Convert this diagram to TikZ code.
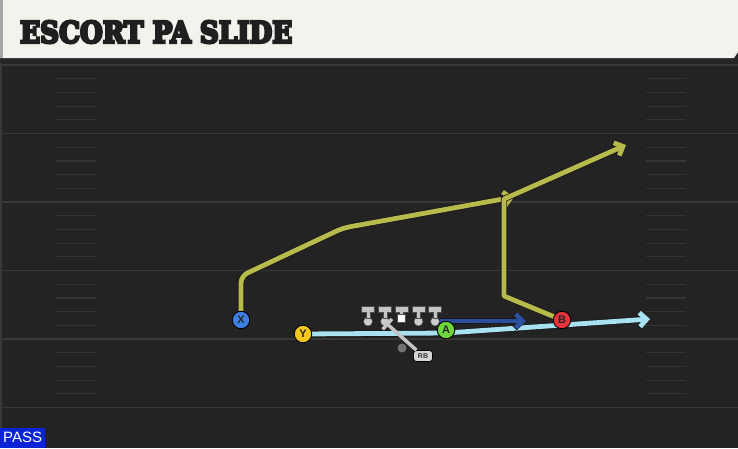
\documentclass[tikz,border=0pt]{standalone}
\usepackage{fontspec}
\usepackage{graphicx}
\setmainfont{Liberation Sans}
\newfontfamily\titlefont{DejaVu Serif}
\usetikzlibrary{arrows.meta}

\definecolor{fieldgray}{HTML}{232323}
\definecolor{yardline}{HTML}{383838}
\definecolor{hashline}{HTML}{343434}
\definecolor{headerbg}{HTML}{F4F2EC}
\definecolor{passblue}{HTML}{0B24D6}
\definecolor{routeolive}{HTML}{B8BA4C}
\definecolor{routecyan}{HTML}{A8E2F0}
\definecolor{routeblue}{HTML}{2C4E9E}
\definecolor{xblue}{HTML}{3D7FE0}
\definecolor{yyellow}{HTML}{F4C81C}
\definecolor{agreen}{HTML}{6ED63C}
\definecolor{bred}{HTML}{E8333F}
\definecolor{olgray}{HTML}{C4C4C4}

\newcommand{\heavytext}[1]{\special{pdf:literal direct 2 Tr 0.9 w}#1\special{pdf:literal direct 0 Tr}}

\tikzset{
  player/.style={circle, draw=black, line width=0.9pt, minimum size=17.5pt, inner sep=0pt,
    font=\bfseries\fontsize{11}{11}\selectfont, text=black!85},
  route/.style={line width=4.8pt, line join=round,
    -{Straight Barb[length=7pt, width=14pt]},
    preaction={draw=black!90, line width=6.4pt}},
  lineman/.style={circle, fill=olgray!85, draw=black!70, line width=0.5pt, minimum size=9pt, inner sep=0pt},
  rbtag/.style={rounded corners=3pt, fill=olgray!70, draw=black, line width=0.7pt,
    minimum width=19pt, minimum height=11pt, inner sep=0pt,
    font=\bfseries\fontsize{7}{7}\selectfont, text=black!80}
}

\begin{document}
\begin{tikzpicture}[x=1pt, y=-1pt]
    \useasboundingbox (0,0) rectangle (738,448);

    % Field and header
    \fill[fieldgray] (0,0) rectangle (738,448);
    \fill[black!85] (0,56) rectangle (738,63);
    \fill[yardline] (0,63) rectangle (2,448);
    \fill[headerbg] (0,0) -- (738,0) -- (738,52) -- (734,58) -- (0,58) -- cycle;
    \fill[black!35] (0,0) rectangle (3,58);
    \node[anchor=west, inner sep=0pt, text=black!88] (title) at (20,32)
        {\resizebox{272pt}{22pt}{\titlefont\bfseries\heavytext{ESCORT PA SLIDE}}};

    % Yard lines and hash marks
    \foreach \yl in {65,133.5,202,270.5,339,407.5} {
        \draw[yardline, line width=1.6pt] (0,\yl) -- (738,\yl);
    }
    \foreach \yl in {65,133.5,202,270.5,339} {
        \foreach \k in {1,2,3,4} {
            \draw[hashline, line width=1.2pt] (56,\yl+13.7*\k) -- (96,\yl+13.7*\k);
            \draw[hashline, line width=1.2pt] (646,\yl+13.7*\k) -- (686,\yl+13.7*\k);
        }
    }

    % Route points
    \coordinate (xb1) at (241,276);
    \coordinate (xb2) at (343,228);
    \coordinate (xe) at (514,197);
    \coordinate (bb1) at (504,296);
    \coordinate (bb2) at (504,199);
    \coordinate (be) at (626,145);
    \coordinate (yb) at (446,333);
    \coordinate (ye) at (650,319);
    \coordinate (ae) at (526,321);
    \coordinate (mesh) at (386,323);

    % Offensive line
    \foreach \i/\x in {1/368,2/385,4/418.5,5/435} {
        \node[lineman] (ol\i) at (\x,321.5) {};
        \fill[olgray, draw=black!70, line width=0.4pt]
            (\x-2,318) -- (\x-2,312) -- (\x-6.5,312) -- (\x-6.5,306)
            -- (\x+6.5,306) -- (\x+6.5,312) -- (\x+2,312) -- (\x+2,318) -- cycle;
    }
    \node[fill=white, draw=black!70, line width=0.4pt, minimum size=8pt, inner sep=0pt] (ol3) at (401.5,318.5) {};
    \fill[olgray, draw=black!70, line width=0.4pt]
        (399.5,314.5) -- (399.5,312) -- (395,312) -- (395,306)
        -- (408,306) -- (408,312) -- (403.5,312) -- (403.5,314.5) -- cycle;

    % Routes
    \draw[route, routecyan] (303,334) -- (yb) -- (ye);
    \draw[route, routeolive, rounded corners=7pt] (241,320) -- (xb1) -- (xb2) -- (xe);
    \draw[route, routeolive] (562,320) -- (bb1) -- (bb2) -- (be);
    \draw[route, routeblue] (440,321) -- (ae);

    % Backfield
    \node[circle, fill=black!55, minimum size=9pt, inner sep=0pt] (qb) at (402,348) {};
    \node[rbtag] (rb) at (423,356) {RB};
    \draw[olgray, line width=3.5pt, -{Bar[width=14pt, line width=3.5pt]}] (rb) -- (mesh);

    % Players
    \node[player, fill=xblue] (X) at (241,320) {X};
    \node[player, fill=yyellow] (Y) at (303,334) {Y};
    \node[player, fill=agreen] (A) at (446,330) {A};
    \node[player, fill=bred] (B) at (562,320) {B};

    % Play type tag
    \node[fill=passblue, text=white, anchor=south west, minimum width=45pt, minimum height=20pt,
        inner sep=0pt, font=\fontsize{15}{15}\selectfont] (pass) at (0,448) {PASS};
\end{tikzpicture}
\end{document}
